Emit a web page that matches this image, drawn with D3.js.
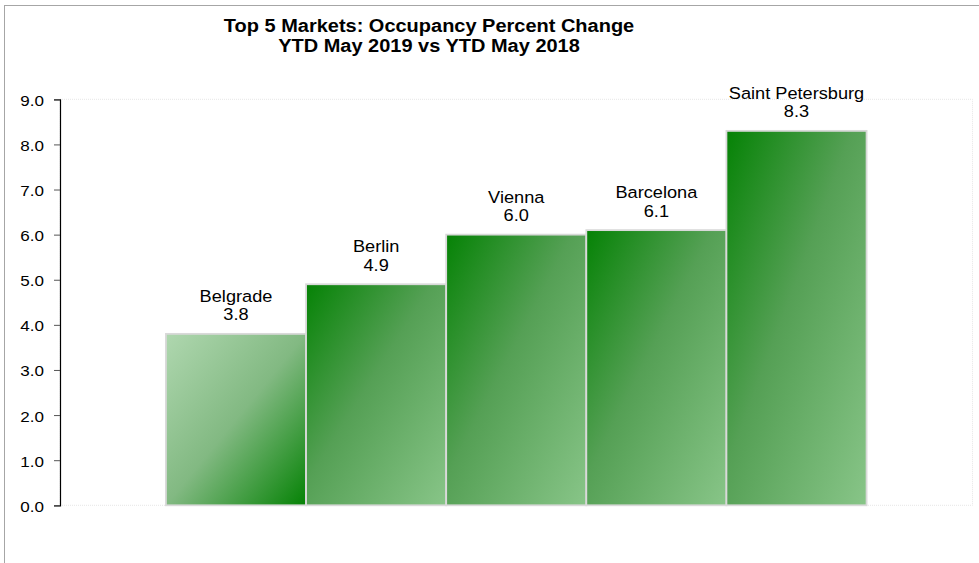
<!DOCTYPE html>
<html>
<head>
<meta charset="utf-8">
<script src="https://cdn.jsdelivr.net/npm/d3@7"></script>
<style>
  body { margin: 0; background: #fff; }
  text { font-family: "Liberation Sans", Arial, sans-serif; fill: #000; }
</style>
</head>
<body>
<script>

// chart data
const cities = ["Belgrade", "Berlin", "Vienna", "Barcelona", "Saint Petersburg"];
const occupancyChange = [3.8, 4.9, 6.0, 6.1, 8.3];
const yTicks = [0, 1, 2, 3, 4, 5, 6, 7, 8, 9];
const titleLines = ["Top 5 Markets: Occupancy Percent Change", "YTD May 2019 vs YTD May 2018"];

const width = 979,
  height = 563;

const plot = {left: 60, right: 972.5, top: 99.3, bottom: 505.3}; // plot area box

const svg = d3.select('body').append('svg')
  .attr('width', width)
  .attr('height', height);

// gradients: first bar light -> dark, rest dark -> light
const defs = svg.append('defs');
const gradUp = defs.append('linearGradient')
  .attr('id', 'gradLight')
  .attr('x1', 0).attr('y1', 0).attr('x2', 1).attr('y2', 1);
gradUp.append('stop').attr('offset', '0%').attr('stop-color', '#afd7af');
gradUp.append('stop').attr('offset', '50%').attr('stop-color', '#82b982');
gradUp.append('stop').attr('offset', '100%').attr('stop-color', '#058205');

const gradDown = defs.append('linearGradient')
  .attr('id', 'gradDark')
  .attr('x1', 0).attr('y1', 0).attr('x2', 1).attr('y2', 1);
gradDown.append('stop').attr('offset', '0%').attr('stop-color', '#058205');
gradDown.append('stop').attr('offset', '45%').attr('stop-color', '#55a055');
gradDown.append('stop').attr('offset', '100%').attr('stop-color', '#88c588');

// chart frame (only left + top edges are in view)
svg.append('rect')
  .attr('x', 4.5)
  .attr('y', 5.5)
  .attr('width', width + 20)
  .attr('height', height + 20)
  .style('fill', 'none')
  .style('stroke', '#a6a6a6')
  .style('stroke-width', 1);

// faint plot area border
svg.append('rect')
  .attr('x', plot.left)
  .attr('y', plot.top)
  .attr('width', plot.right - plot.left)
  .attr('height', plot.bottom - plot.top)
  .style('fill', 'none')
  .style('stroke', '#e6e6e6')
  .style('stroke-dasharray', '1,1');

const x = d3.scaleBand()
  .domain(cities)
  .range([plot.left, plot.right])
  .paddingInner(0)
  .paddingOuter(0.756);

const y = d3.scaleLinear()
  .domain([0, 9])
  .range([plot.bottom, plot.top]);

// text in the original is a touch wide, so stretch it a little
function stretchedText(g, px, py, sx) {
  return g.append('text')
    .attr('transform', 'translate(' + px + ',' + py + ') scale(' + sx + ',1)');
}

// y axis
const yAxis = svg.append('g')
  .attr('transform', 'translate(' + plot.left + ',0)')
  .call(d3.axisLeft(y).tickValues(yTicks).tickSize(6).tickFormat(d3.format('.1f')));

yAxis.select('.domain').attr('stroke', '#000').attr('stroke-width', 1.2);
yAxis.selectAll('.tick line').attr('stroke', '#555');
yAxis.selectAll('.tick text').remove();

yAxis.selectAll('.tick').each(function(d) {
  stretchedText(d3.select(this), -16, 6, 1.1)
    .attr('text-anchor', 'end')
    .style('font-size', '15.5px')
    .text(d3.format('.1f')(d));
});

// bars
svg.append('g').selectAll('rect')
  .data(cities)
  .enter()
  .append('rect')
  .attr('x', d => x(d))
  .attr('y', (d, i) => y(occupancyChange[i]))
  .attr('width', x.bandwidth())
  .attr('height', (d, i) => y(0) - y(occupancyChange[i]))
  .style('fill', (d, i) => i === 0 ? 'url(#gradLight)' : 'url(#gradDark)')
  .style('stroke', '#d9d9d9')
  .style('stroke-width', 1.8);

// bar labels: city name over value
const labels = svg.append('g');
cities.forEach(function(c, i) {
  const cx = x(c) + x.bandwidth() / 2;
  const top = y(occupancyChange[i]);
  stretchedText(labels, cx, top - 32, 1.07)
    .attr('text-anchor', 'middle')
    .style('font-size', '17px')
    .text(c);
  stretchedText(labels, cx, top - 13.6, 1.07)
    .attr('text-anchor', 'middle')
    .style('font-size', '17px')
    .text(d3.format('.1f')(occupancyChange[i]));
});

// title
titleLines.forEach(function(t, i) {
  stretchedText(svg, 429, 32 + i * 20, 1.08)
    .attr('text-anchor', 'middle')
    .style('font-size', '18.5px')
    .style('font-weight', 'bold')
    .text(t);
});

</script>
</body>
</html>
